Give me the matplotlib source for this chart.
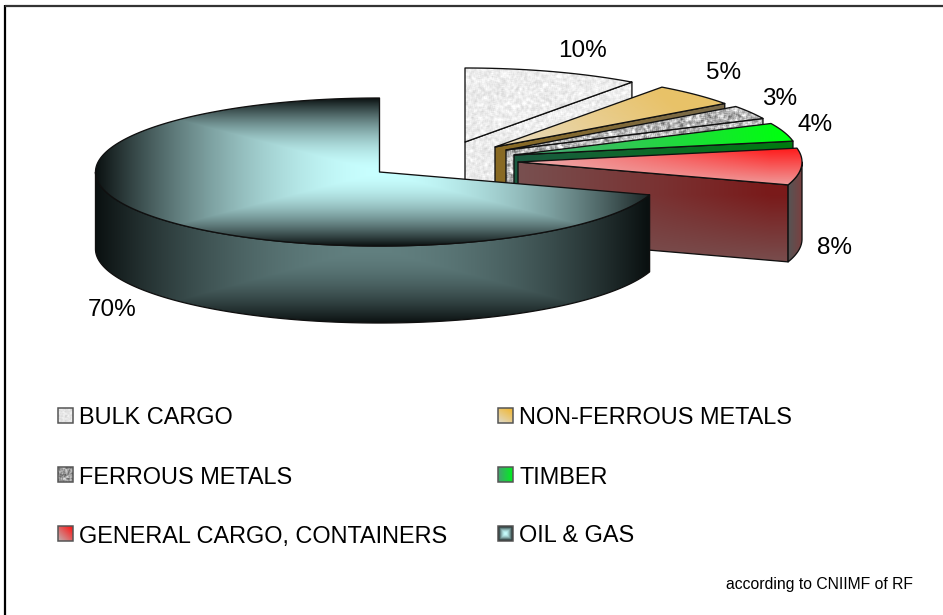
import numpy as np
import matplotlib
matplotlib.use("Agg")
import matplotlib.pyplot as plt
from matplotlib.patches import Polygon, Rectangle

categories = ["BULK CARGO", "NON-FERROUS METALS", "FERROUS METALS", "TIMBER",
              "GENERAL CARGO, CONTAINERS", "OIL & GAS"]
shares = [10, 5, 3, 4, 8, 70]
footnote = "according to CNIIMF of RF"

# layout (pixels of the 943x615 canvas)
W, H = 943, 615
CX, CY, RX, RY, DEPTH = 379.5, 172, 284, 74, 77
explode_x = [85.5, 115.5, 126.5, 134.5, 138.5, 0]
explode_y = [-30, -25, -22, -17, -10, 0]
label_xy = [(583, 49), (724, 71), (780, 97), (815, 123), (835, 246), (112, 308)]
legend_col_x = [58, 498]
legend_row_y = [416, 475, 534]
TEXT_DY = 2

plt.rcParams["font.family"] = ["Liberation Sans", "DejaVu Sans"]
fig = plt.figure(figsize=(W / 100, H / 100), dpi=100)
ax = fig.add_axes([0, 0, 1, 1])
ax.set_xlim(0, W)
ax.set_ylim(H, 0)
ax.axis("off")


def hexc(s):
    return np.array([int(s[i:i + 2], 16) for i in (0, 2, 4)]) / 255.0


def lerp(c0, c1, t):
    t = np.clip(t, 0, 1)[..., None]
    return hexc(c0) * (1 - t) + hexc(c1) * t


def rect_grad(c0, c1, cx, cy, hx, hy, gamma=1.0):
    def f(X, Y):
        t = np.maximum(np.abs(X - cx) / hx, np.abs(Y - cy) / hy)
        return lerp(c0, c1, np.clip(t, 0, 1) ** gamma)
    return f


def lin_grad(c0, c1, p0, p1):
    p0, p1 = np.array(p0, float), np.array(p1, float)
    d = p1 - p0
    def f(X, Y):
        return lerp(c0, c1, ((X - p0[0]) * d[0] + (Y - p0[1]) * d[1]) / (d @ d))
    return f


def corner_grad(c0, c1, x0, x1, y0, y1):
    """Strongest towards the (x1, y1) corner, fading along both directions."""
    def f(X, Y):
        return lerp(c0, c1, np.clip((X - x0) / (x1 - x0), 0, 1) * np.clip((Y - y0) / (y1 - y0), 0, 1))
    return f


def speckle(base, amp):
    def f(X, Y):
        n = np.sin(X * 12.9898 + Y * 78.233) * 43758.5453
        n = n - np.floor(n) - 0.5
        for a in (0, 1):
            n = (n + np.roll(n, 1, a) + np.roll(n, -1, a)) / 3 * 1.45
        v = np.clip(base + amp * n, 0, 1)
        return np.dstack([v, v, v])
    return f


def paint(pts, fill, z=1):
    pts = np.asarray(pts)
    x0, y0 = np.floor(pts.min(0)).astype(int) - 1
    x1, y1 = np.ceil(pts.max(0)).astype(int) + 1
    X, Y = np.meshgrid(np.arange(x0, x1) + 0.5, np.arange(y0, y1) + 0.5)
    poly = Polygon(pts, closed=True, fc="none", ec="none")
    ax.add_patch(poly)
    im = ax.imshow(fill(X, Y), extent=(x0, x1, y1, y0), origin="upper", aspect="auto",
                   interpolation="bilinear", zorder=z)
    im.set_clip_path(poly)
    ax.add_patch(Polygon(pts, closed=True, fc="none", ec="#101010", lw=0.95, zorder=z,
                         joinstyle="round"))


def arc(ox, oy, a0, a1):
    th = np.radians(np.linspace(a0, a1, max(int(abs(a1 - a0) * 2), 2) + 1))
    return np.column_stack([ox + RX * np.sin(th), oy - RY * np.cos(th)])


def down(p):
    return p + np.array([0, DEPTH])


# per-slice fills: top surface, cut face
top_fill = [
    speckle(0.93, 0.14),
    lin_grad("e8d8b4", "e8c268", (560, 170), (640, 75)),
    speckle(0.72, 0.55),
    lin_grad("45b070", "00ff10", (560, 160), (780, 130)),
    corner_grad("ecb4b4", "ff1a1a", 500, 770, 192, 148),
    rect_grad("c8ffff", "0a1010", CX, CY, RX, RY, 1.8),
]
face_fill = [
    speckle(0.93, 0.14),
    lin_grad("8a6a22", "7a6a4a", (495, 200), (724, 150)),
    speckle(0.72, 0.55),
    lin_grad("1a5a40", "007a10", (520, 190), (790, 170)),
    corner_grad("785050", "7a1a1a", 520, 770, 265, 195),
    None,
]

angles = np.concatenate([[0], np.cumsum(shares)]) * 3.6
z = 2
for i in range(5):
    a0, a1 = angles[i], angles[i + 1]
    ox, oy = CX + explode_x[i], CY + explode_y[i]
    apex = np.array([ox, oy], float)
    rim = arc(ox, oy, a0, a1)
    # cut face along the clockwise edge
    paint([apex, rim[-1], down(rim[-1]), down(apex)], face_fill[i], z=z)
    # outer wall where the rim faces the viewer
    if a1 > 90:
        w = arc(ox, oy, 90, a1)
        paint(np.vstack([w, down(w)[::-1]]),
              lin_grad("7a4040", "555555", (ox + RX, 0), (rim[-1][0], 0)), z=z)
    paint(np.vstack([apex, rim]), top_fill[i], z=z)
    z += 1

# the large slice: wall first, then top
a0 = angles[5]
wall = arc(CX, CY, a0, 270)
paint(np.vstack([wall, down(wall)[::-1]]),
      rect_grad("628080", "0a1010", CX - 8, CY + 75, RX - 8, 76, 1.8), z=z)
top = arc(CX, CY, a0, 360)
paint(np.vstack([[CX, CY], top]), top_fill[5], z=z)

# value labels
for v, (x, y) in zip(shares, label_xy):
    ax.text(x, y + TEXT_DY, f"{v}%", ha="center", va="center", fontsize=17.5,
            color="black", zorder=20)

# legend
for i, name in enumerate(categories):
    sx = legend_col_x[i % 2]
    sy = legend_row_y[i // 2]
    x0, x1, y0, y1 = sx, sx + 15, sy - 8, sy + 7
    X, Y = np.meshgrid(np.linspace(x0, x1, 30), np.linspace(y0, y1, 30))
    if i == 0:
        f = speckle(0.9, 0.16)
    elif i == 2:
        f = speckle(0.62, 0.7)
    elif i == 1:
        f = lin_grad("e0d8c0", "f0b838", (x0 + 3, y1), (x1 - 3, y0))
    elif i == 3:
        f = lin_grad("45a070", "00f020", (x0, y0), (x1, y0))
    elif i == 4:
        f = lin_grad("c0b0b0", "ff1010", (x0, y1), (x1, y0))
    else:
        f = rect_grad("c8ffff", "0a1010", (x0 + x1) / 2, (y0 + y1) / 2, 7.5, 7.5, 1.8)
    ax.imshow(f(X, Y), extent=(x0, x1, y1, y0), origin="upper", aspect="auto", zorder=10)
    ax.add_patch(Rectangle((x0, y0), 15, 15, fc="none", ec="#555555", lw=1.1, zorder=11))
    ax.text(sx + 21, sy + TEXT_DY, name, ha="left", va="center", fontsize=16.9,
            color="black", zorder=20)

ax.text(913, 583 + TEXT_DY, footnote, ha="right", va="center", fontsize=11.3,
        color="black", zorder=20)

# frame: left and top rules only
ax.plot([5, 5], [5, H], color="black", lw=1.6, solid_capstyle="butt", zorder=30)
ax.plot([5, W], [5.5, 5.5], color="#333333", lw=1.6, solid_capstyle="butt", zorder=30)

ax.set_xlim(0, W)
ax.set_ylim(H, 0)
fig.savefig("out.png", dpi=100, facecolor="white")
